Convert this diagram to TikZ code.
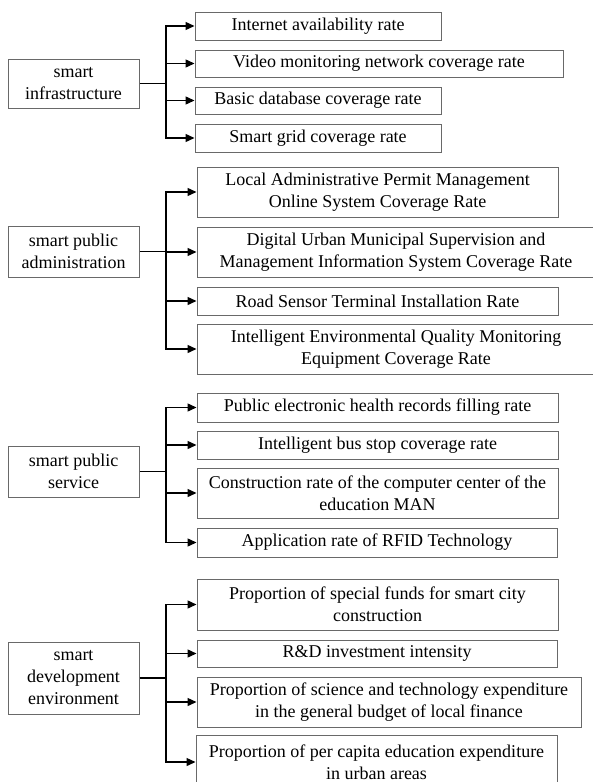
\documentclass[tikz,border=0pt]{standalone}
\usepackage{fontspec}
\setmainfont{Liberation Serif}
\usetikzlibrary{arrows.meta}

\definecolor{boxline}{RGB}{105,105,105}

% place a box from its left/right and top/bottom edges (y grows downward)
\newcommand{\edgebox}[6]{%
  \node[cell, minimum width={(#3)-(#2)}, minimum height={(#5)-(#4)}]
    (#1) at ({((#2)+(#3))/2}, {((#4)+(#5))/2}) {#6};}

\begin{document}
\begin{tikzpicture}[x=1pt, y=-1pt,
  cell/.style={draw=boxline, line width=1pt, inner sep=0pt, align=center,
    font=\fontsize{18}{22}\selectfont, text=black},
  conn/.style={draw=black, line width=1.4pt},
  tip/.style={conn, -{Triangle[length=9pt,width=8pt]}}]
\useasboundingbox (0,0) rectangle (593,782);

% --- smart infrastructure ---
\edgebox{L1}{8}{139}{59}{108}{smart\\infrastructure}
\edgebox{a1}{195}{441}{12}{40}{Internet availability rate}
\edgebox{a2}{195}{563}{50}{77}{Video monitoring network coverage rate}
\edgebox{a3}{195}{441}{87}{114}{Basic database coverage rate}
\edgebox{a4}{195}{441}{124}{152}{Smart grid coverage rate}
\coordinate (j1) at (166,83.5);
\draw[conn] (L1.east) -- (j1);
\foreach \t in {a1,a2,a3,a4} \draw[tip] (j1) |- (\t.west);

% --- smart public administration ---
\edgebox{L2}{8}{139}{226}{277}{smart public\\administration}
\edgebox{b1}{197}{558}{167}{217}{Local Administrative Permit Management\\Online System Coverage Rate}
\edgebox{b2}{197}{595}{227}{277}{Digital Urban Municipal Supervision and\\Management Information System Coverage Rate}
\edgebox{b3}{197}{558}{287}{315}{Road Sensor Terminal Installation Rate}
\edgebox{b4}{197}{595}{324}{374}{Intelligent Environmental Quality Monitoring\\Equipment Coverage Rate}
\coordinate (j2) at (166,251.5);
\draw[conn] (L2.east) -- (j2);
\foreach \t in {b1,b2,b3,b4} \draw[tip] (j2) |- (\t.west);

% --- smart public service ---
\edgebox{L3}{8}{139}{446}{497}{smart public\\service}
\edgebox{c1}{197}{558}{393}{422}{Public electronic health records filling rate}
\edgebox{c2}{197}{558}{431}{459}{Intelligent bus stop coverage rate}
\edgebox{c3}{197}{558}{468}{518}{Construction rate of the computer center of the\\education MAN}
\edgebox{c4}{197}{557}{528}{557}{Application rate of RFID Technology}
\coordinate (j3) at (166,471.5);
\draw[conn] (L3.east) -- (j3);
\foreach \t in {c1,c2,c3,c4} \draw[tip] (j3) |- (\t.west);

% --- smart development environment ---
\edgebox{L4}{8}{139}{642}{714}{smart\\development\\environment}
\edgebox{d1}{197}{558}{579}{630}{Proportion of special funds for smart city\\construction}
\edgebox{d2}{197}{557}{640}{667}{R\&D investment intensity}
\edgebox{d3}{197}{581}{677}{727}{Proportion of science and technology expenditure\\in the general budget of local finance}
\edgebox{d4}{196}{557}{735}{789}{Proportion of per capita education expenditure\\in urban areas}
\coordinate (j4) at (166,678);
\draw[conn] (L4.east) -- (j4);
\foreach \t in {d1,d2,d3,d4} \draw[tip] (j4) |- (\t.west);
\end{tikzpicture}
\end{document}
